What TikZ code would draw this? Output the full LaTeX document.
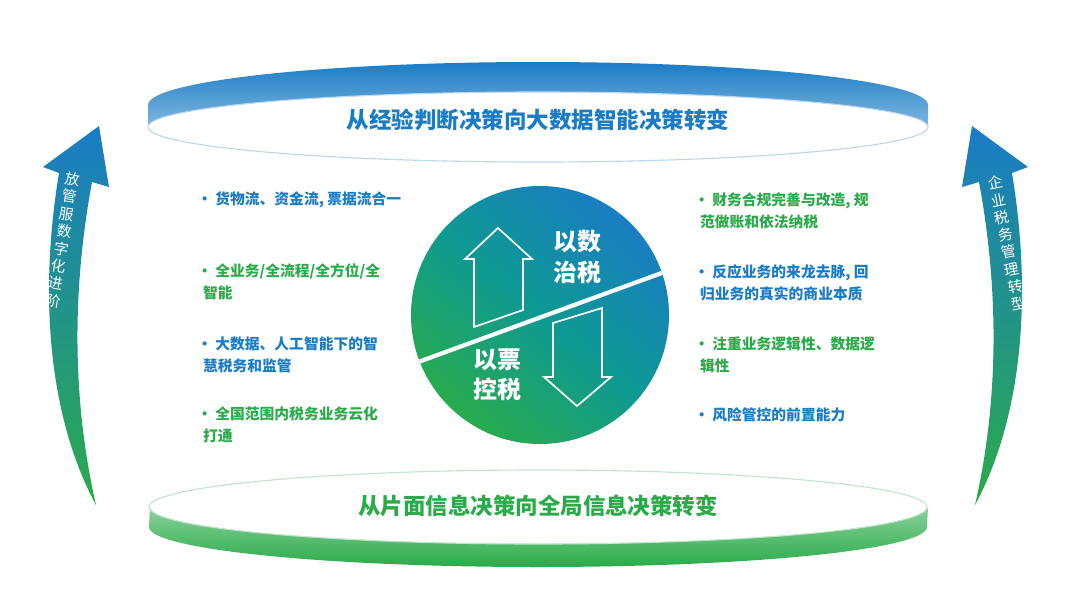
\documentclass[tikz,border=0pt]{standalone}
\usepackage{fontspec}
\newfontfamily\cjk{Noto Sans CJK SC}
\definecolor{tblue}{HTML}{1A7CC5}
\definecolor{tgreen}{HTML}{2AAB4A}
\definecolor{tteal}{HTML}{0E9A92}
\tikzset{
  bullet/.style={anchor=west, align=left, font=\cjk\bfseries\fontsize{10.5}{15.5}\selectfont, inner sep=0pt},
  title/.style={font=\cjk\bfseries\fontsize{16}{18}\selectfont},
  bigword/.style={font=\cjk\bfseries\fontsize{17}{21.5}\selectfont, text=white, align=center},
  sideword/.style={font=\cjk\fontsize{10.5}{12.5}\selectfont, text=white, align=center}
}
\begin{document}
\begin{tikzpicture}[x=0.025cm, y=-0.025cm]
  \useasboundingbox (0,0) rectangle (1080,600);
  % top ring
  \shade[top color=tblue, bottom color=tblue!55] (148,105) arc[start angle=180, end angle=360, x radius=390, y radius=43]
    -- (928,127) arc[start angle=0, end angle=-180, x radius=390, y radius=35] -- cycle;
  \draw[tblue!30, line width=0.8pt] (538,127) ellipse[x radius=390, y radius=35];
  % bottom ring
  \shade[top color=tgreen!55, bottom color=tgreen] (150,507) arc[start angle=180, end angle=0, x radius=389, y radius=37]
    -- (927,527) arc[start angle=0, end angle=180, x radius=389, y radius=40] -- cycle;
  \draw[tgreen!30, line width=0.8pt] (538,507) ellipse[x radius=389, y radius=37];
  \node[title, text=tblue] (top) at (538,120) {从经验判断决策向大数据智能决策转变};
  \node[title, text=tgreen] (bottom) at (538,506) {从片面信息决策向全局信息决策转变};
  % side arrows
  \shade[top color=tblue, bottom color=tgreen] (96,505) .. controls (50,420) and (38,300) .. (59,173) -- (43,167) -- (99,126)
    -- (109,187) -- (92,182) .. controls (72,290) and (72,400) .. (96,505) -- cycle;
  \shade[top color=tblue, bottom color=tgreen] (975,505) .. controls (1021,420) and (1033,300) .. (1012,173) -- (1028,167) -- (972,126)
    -- (962,187) -- (979,182) .. controls (999,290) and (999,400) .. (975,505) -- cycle;
  \node[sideword, rotate=-9] (leftword) at (63,240) {放\\管\\服\\数\\字\\化\\进\\阶};
  \node[sideword, rotate=11] (rightword) at (1007,243) {企\\业\\税\\务\\管\\理\\转\\型};
  % centre circle
  \begin{scope}
    \clip (540,315) circle[radius=129];
    \shade[shading=axis, top color=tblue, bottom color=tgreen, middle color=tteal, shading angle=-40] (405,180) rectangle (675,450);
    \draw[white, line width=3pt] (380,376) -- (700,259);
  \end{scope}
  \draw[white, line width=1.2pt] (474,327) -- (474,259) -- (465,259) -- (498,228) -- (532,259) -- (523,259) -- (523,310) -- cycle;
  \draw[white, line width=1.2pt] (553,323) -- (553,377) -- (544,377) -- (577,406) -- (611,377) -- (602,377) -- (602,308) -- cycle;
  \node[bigword] (digital) at (577,257) {以数\\治税};
  \node[bigword] (invoice) at (497,375) {以票\\控税};
  % left points
  \node[bullet, text=tblue] (l1) at (197,200) {· 货物流、资金流, 票据流合一};
  \node[bullet, text=tgreen] (l2) at (197,282) {· 全业务/全流程/全方位/全\\\ \,智能};
  \node[bullet, text=tblue] (l3) at (197,355) {· 大数据、人工智能下的智\\\ \,慧税务和监管};
  \node[bullet, text=tgreen] (l4) at (197,425) {· 全国范围内税务业务云化\\\ \,打通};
  % right points
  \node[bullet, text=tgreen] (r1) at (694,211) {· 财务合规完善与改造, 规\\\ \,范做账和依法纳税};
  \node[bullet, text=tblue] (r2) at (694,283) {· 反应业务的来龙去脉, 回\\\ \,归业务的真实的商业本质};
  \node[bullet, text=tgreen] (r3) at (694,355) {· 注重业务逻辑性、数据逻\\\ \,辑性};
  \node[bullet, text=tblue] (r4) at (694,415) {· 风险管控的前置能力};
\end{tikzpicture}
\end{document}
